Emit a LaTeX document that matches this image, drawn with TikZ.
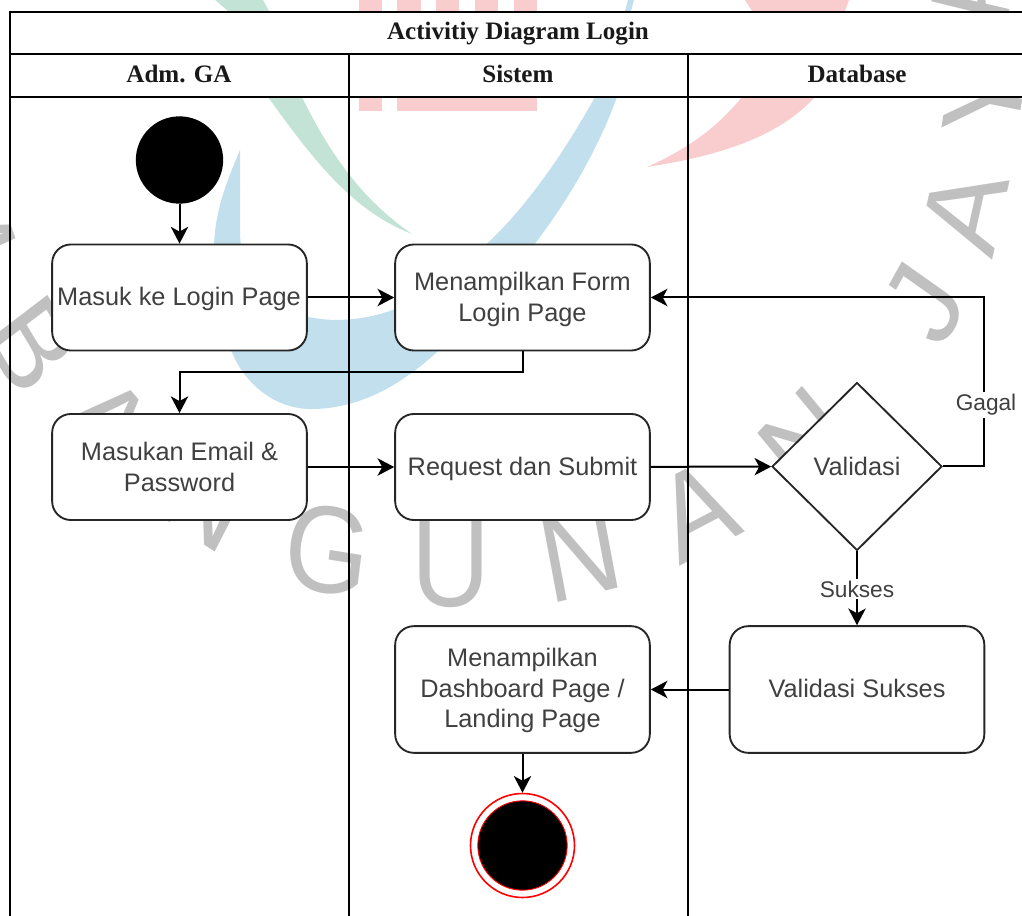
\documentclass[tikz,border=0pt]{standalone}
\usepackage{fontspec}
\setmainfont{Liberation Sans}
\newfontfamily\titlefont{Liberation Serif}
\usetikzlibrary{arrows.meta,shapes.geometric}
\definecolor{wmpink}{HTML}{F9CCCE}
\definecolor{wmblue}{HTML}{C2DFEE}
\definecolor{wmgreen}{HTML}{C2E3D6}
\definecolor{wmgrey}{HTML}{C0C0C0}
\definecolor{txt}{HTML}{404040}
\tikzset{
 lane/.style={draw=black,line width=1.4pt},
 act/.style={draw=black!85,line width=1.4pt,fill=white,rounded corners=14pt,minimum width=191pt,minimum height=79.5pt,inner sep=0pt},
 acttext/.style={align=center,inner sep=0pt,text=txt,font=\fontsize{19}{23.6}\selectfont},
 flow/.style={draw=black,line width=1.5pt,-{Stealth[length=12.5pt,width=13pt,inset=3.5pt]}},
 head/.style={font=\titlefont\bfseries\fontsize{18.8}{22}\selectfont,text=black!90},
 lbl/.style={fill=white,inner sep=1.5pt,text=txt,font=\fontsize{17}{20}\selectfont},
 wm/.style={text=wmgrey,font=\fontsize{82}{82}\selectfont,inner sep=0pt,yscale=1.13},
}
\begin{document}
\begin{tikzpicture}[x=0.75pt,y=-0.75pt]
\useasboundingbox (0,0) rectangle (1022,916);
% watermark
\fill[wmgreen] (215,0) -- (263,0) -- (269,11) -- (228,11) -- cycle;
\fill[wmgreen] (268,97) .. controls (310,155) and (350,210) .. (412,234) .. controls (370,205) and (335,165) .. (302,97) -- cycle;
\foreach \xa/\xb in {359/382,397/421,436/459,475/498,514/537}{\fill[wmpink] (\xa,0) rectangle (\xb,11);}
\fill[wmpink] (359,97) rectangle (382,111);
\fill[wmpink] (397,97) rectangle (537,111);
\fill[wmpink] (745,0) -- (849,0) -- (845,11) -- (752,11) -- cycle;
\fill[wmpink] (742,97) .. controls (715,130) and (685,150) .. (647,167) .. controls (725,155) and (780,135) .. (815,97) -- cycle;
\fill[wmblue] (628,0) -- (634,0) -- (631,11) -- (625,11) -- cycle;
\fill[wmblue] (240,150) .. controls (225,185) and (214,215) .. (214,250) .. controls (214,300) and (225,350) .. (245,375)
 .. controls (265,400) and (290,410) .. (315,409) .. controls (375,407) and (420,370) .. (455,335)
 .. controls (525,265) and (585,185) .. (617,97) -- (595,97)
 .. controls (560,160) and (520,215) .. (480,250) .. controls (440,290) and (395,320) .. (335,320)
 .. controls (275,318) and (240,290) .. (240,230) .. controls (240,205) and (240,175) .. (240,150) -- cycle;
% grey letters
\node[wm,rotate=-68] (wm1) at (-33,216) {M};
\node[wm,rotate=-56] (wm2) at (32,345) {B};
\node[wm,rotate=-46] (wm3) at (108,425) {A};
\node[wm,rotate=-30] (wm4) at (207,498) {N};
\node[wm,rotate=-8] (wm5) at (328,550) {G};
\node[wm] (wm6) at (451,565) {U};
\node[wm,rotate=12] (wm7) at (580,554) {N};
\node[wm,rotate=25] (wm8) at (697,511) {A};
\node[wm,rotate=43] (wm9) at (806,441) {N};
\node[wm,rotate=58] (wm10) at (925,303) {J};
\node[wm,rotate=76] (wm11) at (965,210) {A};
\node[wm,rotate=80] (wm12) at (985,98) {Y};
\node[wm,rotate=100] (wm13) at (968,-12) {A};
% table
\fill[white] (10,12) rectangle (1022,97);
\node[head] (title) at (518,34) {Activitiy Diagram Login};
\node[head] (h1) at (179,74) {Adm. GA};
\node[head] (h2) at (518,74) {Sistem};
\node[head] (h3) at (857,74) {Database};
\draw[lane] (1022,12) -- (10,12) -- (10,916);
\draw[lane] (10,54) -- (1022,54);
\draw[lane] (10,97) -- (1022,97);
\draw[lane] (349,54) -- (349,916);
\draw[lane] (688,54) -- (688,916);
% nodes
\node[circle,fill=black,minimum size=65.5pt,inner sep=0pt] (start) at (179.5,160) {};
\node[act] (a1) at (179.5,297.5) {};
\node[acttext] (a1t) at (179,299) {Masuk ke Login Page};
\node[act] (a2) at (522.5,297.5) {};
\node[acttext] (a2t) at (522.5,299.5) {Menampilkan Form\\Login Page};
\node[act] (a3) at (179.5,467) {};
\node[acttext] (a3t) at (179.5,467) {Masukan Email \&\\Password};
\node[act] (a4) at (522.5,467) {};
\node[acttext] (a4t) at (522.5,469) {Request dan Submit};
\node[diamond,draw=black!85,line width=1.4pt,minimum width=127.5pt,minimum height=126pt,inner sep=0pt,fill=white] (d) at (857,466.5) {};
\node[acttext] (dt) at (857,466) {Validasi};
\node[act,minimum height=95pt] (a5) at (522.5,689.5) {};
\node[acttext,font=\fontsize{19}{23.2}\selectfont] (a5t) at (522.5,690.5) {Menampilkan\\Dashboard Page /\\Landing Page};
\node[act,minimum height=95pt] (a6) at (857,689.5) {};
\node[acttext] (a6t) at (857,688) {Validasi Sukses};
\node[circle,draw=red,line width=1.2pt,fill=white,minimum size=78pt,inner sep=0pt] (e) at (522.5,845.5) {};
\node[circle,draw=red,line width=0.7pt,fill=black,minimum size=67pt,inner sep=0pt] (e2) at (522.5,845.5) {};
% connectors
\draw[flow] (start) -- (a1);
\draw[flow] (a1) -- (a2);
\draw[flow] (a2.south) |- (179.5,372) -- (a3.north);
\draw[flow] (a3) -- (a4);
\draw[flow] (a4) -- (d);
\draw[flow] (d.east) -| (984,297.5) -- (a2.east);
\draw[flow] (d.south) -- (a6.north);
\draw[flow] (a6) -- (a5);
\draw[flow] (a5) -- (e);
\node[lbl] (gagal) at (986,405) {Gagal};
\node[lbl] (sukses) at (857,589) {Sukses};
\end{tikzpicture}
\end{document}
